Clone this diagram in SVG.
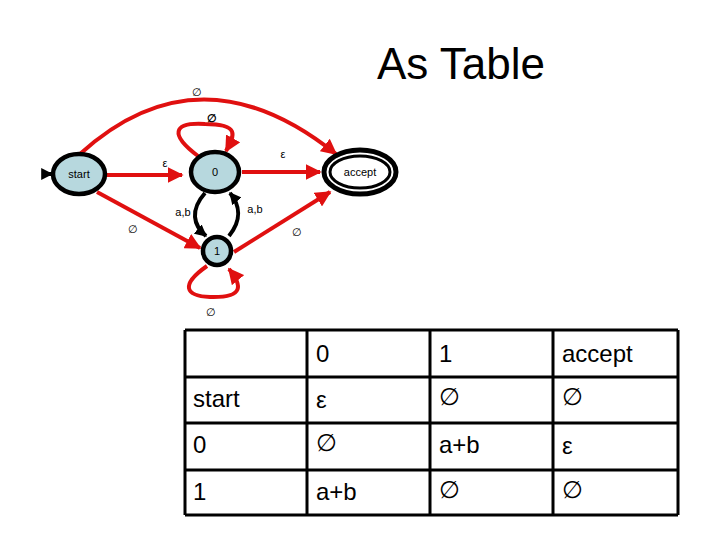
<svg xmlns="http://www.w3.org/2000/svg" width="720" height="540" viewBox="0 0 720 540">
<style>
text{font-family:"Liberation Sans",Arial,sans-serif;fill:#000}
.r{fill:none;stroke:#e01010;stroke-width:4;marker-end:url(#ra)}
.k{fill:none;stroke:#000;stroke-width:4;marker-end:url(#ka)}
.n{fill:#b7d8de;stroke:#000;stroke-width:4.5}
.s{font-size:11px}
.t{font-size:24px}
.g{stroke:#000;stroke-width:3;fill:none}
</style>
<defs>
<marker id="ra" viewBox="0 0 10 10" refX="9" refY="5" markerWidth="4" markerHeight="4" orient="auto" markerUnits="strokeWidth"><path d="M0,0L10,5L0,10z" fill="#e01010"/></marker>
<marker id="ka" viewBox="0 0 10 10" refX="9" refY="5" markerWidth="3" markerHeight="3" orient="auto" markerUnits="strokeWidth"><path d="M0,0L10,5L0,10z" fill="#000"/></marker>
</defs>
<rect width="720" height="540" fill="#fff"/>
<text x="461" y="79" font-size="44" text-anchor="middle">As Table</text>
<g id="connectors">
<path class="r" d="M80,154 Q200,45 336,154"/>
<path class="r" d="M198,156 C170,135 172,122 205,124 C240,124 235,135 226,151"/>
<path class="r" d="M104,175 L182,175"/>
<path class="r" d="M242,172 L320,172"/>
<path class="r" d="M97,192 L200,248"/>
<path class="r" d="M234,252 L330,192"/>
<path class="k" d="M205,193 C190,210 193,225 206,236"/>
<path class="k" d="M229,236 C242,220 240,205 230,193"/>
<path class="r" d="M207,266 C180,285 185,296 210,297 C245,298 242,285 229,269"/>
<path class="k" d="M42,174 L52,174"/>
<text class="s" x="197" y="96" text-anchor="middle">∅</text>
<text class="s" x="212" y="122" text-anchor="middle" font-weight="bold">∅</text>
<text class="s" x="165" y="167" text-anchor="middle">ε</text>
<text class="s" x="283" y="158" text-anchor="middle">ε</text>
<text class="s" x="133" y="233" text-anchor="middle">∅</text>
<text class="s" x="297" y="236" text-anchor="middle">∅</text>
<text class="s" x="183" y="216" text-anchor="middle">a,b</text>
<text class="s" x="255" y="213" text-anchor="middle">a,b</text>
<text class="s" x="211" y="316" text-anchor="middle">∅</text>
</g>
<g id="start"><ellipse class="n" cx="79" cy="174" rx="26" ry="20"/><text class="s" x="79" y="178" text-anchor="middle">start</text></g>
<g id="n0"><ellipse class="n" cx="215" cy="172" rx="24" ry="20"/><text class="s" x="215" y="176" text-anchor="middle">0</text></g>
<g id="n1"><ellipse class="n" cx="217" cy="251" rx="14" ry="14"/><text class="s" x="217" y="255" text-anchor="middle">1</text></g>
<g id="accept"><ellipse cx="360" cy="172" rx="36" ry="22" fill="#fff" stroke="#000" stroke-width="5"/><ellipse cx="360" cy="172" rx="30" ry="16" fill="#fff" stroke="#000" stroke-width="3"/><text class="s" x="360" y="176" text-anchor="middle">accept</text></g>
<g id="table">
<path class="g" d="M185,330H678M185,377H678M185,423H678M185,470H678M185,515H678M185,330V515M307,330V515M430,330V515M553,330V515M678,330V515"/>
<text class="t" x="316" y="362">0</text><text class="t" x="439" y="362">1</text><text class="t" x="562" y="362">accept</text>
<text class="t" x="193" y="407">start</text><text class="t" x="316" y="408">ε</text><text class="t" x="439" y="405">∅</text><text class="t" x="562" y="405">∅</text>
<text class="t" x="193" y="453">0</text><text class="t" x="316" y="451">∅</text><text class="t" x="439" y="453">a+b</text><text class="t" x="562" y="454">ε</text>
<text class="t" x="193" y="500">1</text><text class="t" x="316" y="500">a+b</text><text class="t" x="439" y="498">∅</text><text class="t" x="562" y="498">∅</text>
</g>
</svg>
